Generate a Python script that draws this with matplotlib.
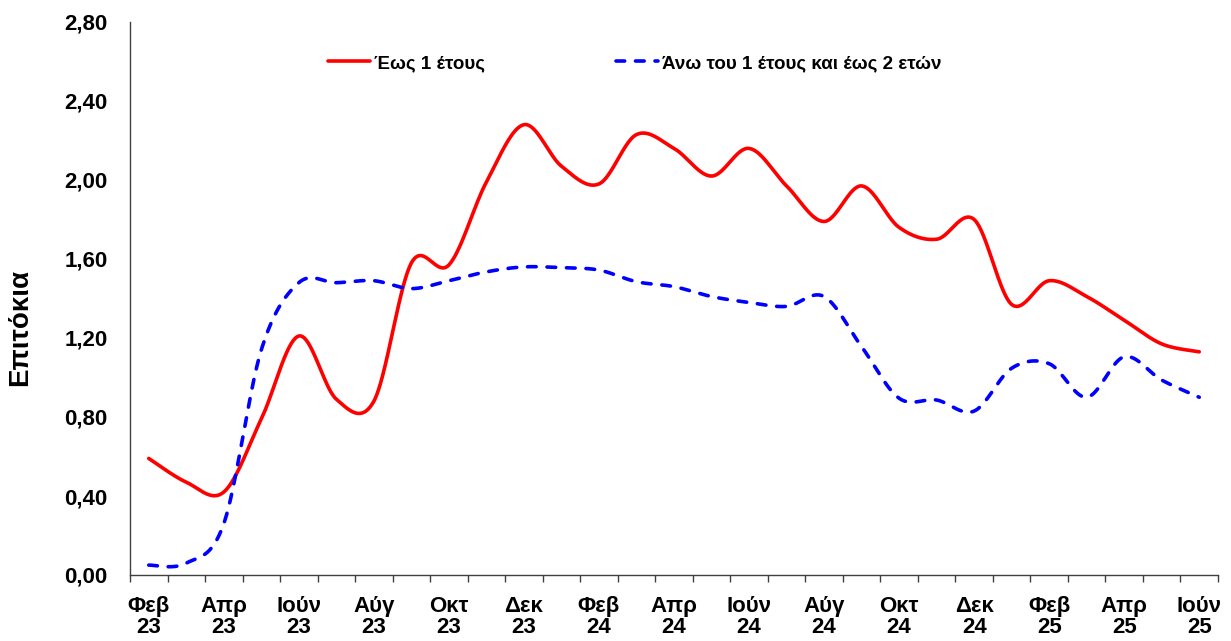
import numpy as np
import matplotlib
matplotlib.use("Agg")
import matplotlib.pyplot as plt

months = ["Φεβ", "Μαρ", "Απρ", "Μάι", "Ιούν", "Ιούλ", "Αύγ", "Σεπ", "Οκτ", "Νοε", "Δεκ", "Ιαν",
          "Φεβ", "Μαρ", "Απρ", "Μάι", "Ιούν", "Ιούλ", "Αύγ", "Σεπ", "Οκτ", "Νοε", "Δεκ", "Ιαν",
          "Φεβ", "Μαρ", "Απρ", "Μάι", "Ιούν"]
years = ["23"] * 11 + ["24"] * 12 + ["25"] * 6

upto_1y = [0.59, 0.47, 0.42, 0.79, 1.21, 0.89, 0.88, 1.58, 1.57, 1.99, 2.28, 2.07,
           1.98, 2.23, 2.16, 2.02, 2.16, 1.97, 1.79, 1.97, 1.76, 1.70, 1.80, 1.37,
           1.49, 1.41, 1.29, 1.17, 1.13]
over1_to2y = [0.05, 0.06, 0.26, 1.14, 1.48, 1.48, 1.49, 1.45, 1.49, 1.535, 1.56, 1.556,
              1.544, 1.485, 1.46, 1.41, 1.38, 1.36, 1.41, 1.156, 0.895, 0.886, 0.83, 1.047,
              1.07, 0.90, 1.105, 0.987, 0.90]

yticks = [0.0, 0.4, 0.8, 1.2, 1.6, 2.0, 2.4, 2.8]

label1 = "Έως 1 έτους"
label2 = "Άνω του 1 έτους και έως 2 ετών"
ylabel = "Επιτόκια"


def smooth(y, n=40):
    """Excel-like smoothed line (Catmull-Rom cubic Bezier through each point)."""
    y = np.asarray(y, float)
    x = np.arange(len(y), dtype=float)
    P = np.column_stack([x, y])
    out = []
    for i in range(len(P) - 1):
        p0 = P[i - 1] if i > 0 else P[i]
        p1 = P[i]
        p2 = P[i + 1]
        p3 = P[i + 2] if i + 2 < len(P) else P[i + 1]
        c1 = p1 + (p2 - p0) / 6.0
        c2 = p2 - (p3 - p1) / 6.0
        t = np.linspace(0, 1, n)[:, None]
        seg = ((1 - t) ** 3) * p1 + 3 * ((1 - t) ** 2) * t * c1 + 3 * (1 - t) * t ** 2 * c2 + t ** 3 * p2
        out.append(seg if i == 0 else seg[1:])
    s = np.vstack(out)
    return s[:, 0], s[:, 1]


plt.rcParams['font.family'] = ['Liberation Sans', 'DejaVu Sans']
plt.rcParams['font.weight'] = 'bold'

fig = plt.figure(figsize=(12.31, 6.41), dpi=100)
ax = fig.add_axes([130 / 1231, 66 / 641, 1088 / 1231, 553 / 641])

xr, yr = smooth(upto_1y)
xb, yb = smooth(over1_to2y)
ax.plot(xr, yr, color='#ff0000', lw=2.6, solid_capstyle='round', label=label1)
ax.plot(xb, yb, color='#0000ff', lw=2.6, linestyle=(0, (2.4, 3.0)),
        dash_capstyle='round', label=label2)

n = len(upto_1y)
ax.set_xlim(-0.5, n - 0.5)
ax.set_ylim(0, 2.8)

# tick marks between categories, labels every 2nd category
ax.set_xticks(np.arange(n + 1) - 0.5)
ax.set_xticklabels([])
ax.tick_params(axis='x', which='major', length=5, width=1, color='#404040', direction='out')
lab_pos = list(range(0, n, 2))
ax.set_xticks(lab_pos, minor=True)
ax.set_xticklabels([f"{months[i]}\n{years[i]}" for i in lab_pos], minor=True,
                   fontsize=16, fontweight='bold', linespacing=1.02)
ax.tick_params(axis='x', which='minor', length=0, pad=15)

ax.set_yticks(yticks)
ax.set_yticklabels([f"{v:.2f}".replace('.', ',') for v in yticks], fontsize=16, fontweight='bold')
ax.tick_params(axis='y', length=0, pad=16)

for s in ['top', 'right']:
    ax.spines[s].set_visible(False)
ax.spines['left'].set_color('#404040')
ax.spines['bottom'].set_color('#404040')
ax.spines['left'].set_linewidth(1)
ax.spines['bottom'].set_linewidth(1)

ax.set_ylabel(ylabel, fontsize=20, fontweight='bold')
ax.yaxis.set_label_coords(-0.089, 0.448)

leg = ax.legend(loc='center left', bbox_to_anchor=(0.182, 0.925), ncol=2, frameon=False,
                prop={'size': 13.5, 'weight': 'bold'}, handlelength=2.25, handletextpad=0.2,
                columnspacing=7.0, borderpad=0, borderaxespad=0)

fig.savefig("out.png", dpi=100)
